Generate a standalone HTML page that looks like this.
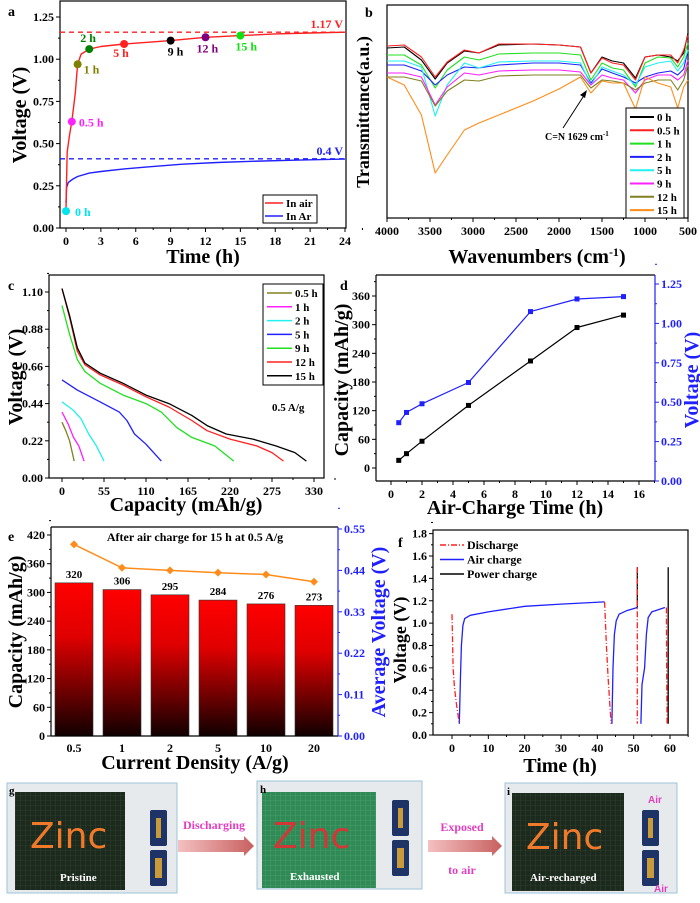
<!DOCTYPE html>
<html><head><meta charset="utf-8">
<style>
html,body{margin:0;padding:0;background:#fff;}
svg{display:block;font-family:"Liberation Serif",serif;font-weight:bold;}
</style></head>
<body>
<svg id="fig" width="700" height="903" viewBox="0 0 700 903" xmlns="http://www.w3.org/2000/svg">
<defs>
<linearGradient id="barGrad" x1="0" y1="0" x2="0" y2="1">
<stop offset="0" stop-color="#ff0000"/><stop offset="0.35" stop-color="#e00000"/><stop offset="1" stop-color="#100000"/>
</linearGradient>
<linearGradient id="arrowGrad" x1="0" y1="0" x2="1" y2="0">
<stop offset="0" stop-color="#f4c0c0"/><stop offset="1" stop-color="#c86060"/>
</linearGradient>
<pattern id="gridDark" width="5" height="5" patternUnits="userSpaceOnUse"><rect width="5" height="5" fill="#1c2a1e"/><path d="M0 0H5M0 0V5" stroke="#3a4a3c" stroke-width="0.6"/></pattern>
<pattern id="gridGreen" width="5" height="5" patternUnits="userSpaceOnUse"><rect width="5" height="5" fill="#2f8a55"/><path d="M0 0H5M0 0V5" stroke="#5aa878" stroke-width="0.6"/></pattern>
</defs>

<g>
 <g>
  <rect x="7" y="783" width="170" height="110" fill="#e6eaec" stroke="#9cc4dc" stroke-width="1"/>
  <rect x="15" y="792" width="110" height="98" fill="url(#gridDark)"/>
  <text x="30" y="848" font-family="'DejaVu Sans',sans-serif" font-weight="normal" font-size="36" fill="#f07a2a">Zinc</text>
  <text x="60" y="881" font-size="11" fill="#fff">Pristine</text>
  <rect x="150" y="810" width="17" height="36" rx="2" fill="#1f3466"/>
  <rect x="150" y="850" width="17" height="36" rx="2" fill="#1f3466"/>
  <rect x="156" y="818" width="5" height="20" fill="#c89a3a"/>
  <rect x="155" y="858" width="7" height="20" fill="#c89a3a"/>
  <text x="9" y="794" font-size="11" fill="#000">g</text>
 </g>
 <text x="214" y="829" font-size="12" fill="#e040c0" text-anchor="middle">Discharging</text>
 <polygon points="178,840 244,840 244,836 254,846 244,856 244,852 178,852" fill="url(#arrowGrad)"/>
 <g>
  <rect x="257" y="781" width="165" height="108" fill="#e6eaec" stroke="#9cc4dc" stroke-width="1"/>
  <rect x="262" y="792" width="114" height="96" fill="url(#gridGreen)"/>
  <text x="273" y="848" font-family="'DejaVu Sans',sans-serif" font-weight="normal" font-size="36" fill="#d03838">Zinc</text>
  <text x="290" y="880" font-size="11" fill="#fff">Exhausted</text>
  <rect x="392" y="800" width="17" height="36" rx="2" fill="#1f3466"/>
  <rect x="392" y="840" width="17" height="36" rx="2" fill="#1f3466"/>
  <rect x="398" y="808" width="5" height="20" fill="#c89a3a"/>
  <rect x="397" y="848" width="7" height="20" fill="#c89a3a"/>
  <text x="260" y="793" font-size="11" fill="#000">h</text>
 </g>
 <text x="462" y="831" font-size="12" fill="#e040c0" text-anchor="middle">Exposed</text>
 <text x="462" y="874" font-size="12" fill="#e040c0" text-anchor="middle">to air</text>
 <polygon points="428,840 492,840 492,836 502,846 492,856 492,852 428,852" fill="url(#arrowGrad)"/>
 <g>
  <rect x="505" y="783" width="172" height="110" fill="#e6eaec" stroke="#9cc4dc" stroke-width="1"/>
  <rect x="512" y="793" width="112" height="98" fill="url(#gridDark)"/>
  <text x="526" y="849" font-family="'DejaVu Sans',sans-serif" font-weight="normal" font-size="36" fill="#f07a2a">Zinc</text>
  <text x="530" y="881" font-size="11" fill="#fff">Air-recharged</text>
  <rect x="642" y="810" width="17" height="36" rx="2" fill="#1f3466"/>
  <rect x="642" y="850" width="17" height="36" rx="2" fill="#1f3466"/>
  <rect x="648" y="818" width="5" height="20" fill="#c89a3a"/>
  <rect x="647" y="858" width="7" height="20" fill="#c89a3a"/>
  <text x="648" y="803" font-family="'Liberation Sans',sans-serif" font-size="10" fill="#e040c0">Air</text>
  <text x="654" y="892" font-family="'Liberation Sans',sans-serif" font-size="10" fill="#e040c0">Air</text>
  <text x="507" y="795" font-size="11" fill="#000">i</text>
 </g>
</g>
</svg>

<script>
const NS='http://www.w3.org/2000/svg';
const svg=document.getElementById('fig');
function mk(parent,tag,attrs,name){
  const e=document.createElementNS(NS,tag);
  for(const k in attrs) e.setAttribute(k,attrs[k]);
  
  
  parent.appendChild(e);
  return e;
}
function txt(parent,x,y,s,size,fill,anchor,name,rot){
  const a={x:x,y:y,'font-size':size,fill:fill||'#000','text-anchor':anchor||'start'};
  if(rot) a.transform='rotate(-90 '+x+' '+y+')';
  const t=mk(parent,'text',a,name);
  t.textContent=s;
  return t;
}
function lin(a0,a1,p0,p1){return v=>p0+(v-a0)*(p1-p0)/(a1-a0);}
function ticks(g,orient,pos,scale,vals,labels,color,size,name,minor){
  color=color||'#000';
  vals.forEach((v,i)=>{
    const p=scale(v);
    if(orient==='bottom'){
      mk(g,'line',{x1:p,y1:pos,x2:p,y2:pos+4,stroke:color,'stroke-width':1},name+'-tick');
      if(labels) txt(g,p,pos+17,labels[i],size,color,'middle',name+'-label');
    }else if(orient==='left'){
      mk(g,'line',{x1:pos-4,y1:p,x2:pos,y2:p,stroke:color,'stroke-width':1},name+'-tick');
      if(labels) txt(g,pos-6,p+4,labels[i],size,color,'end',name+'-label');
    }else{
      mk(g,'line',{x1:pos,y1:p,x2:pos+4,y2:p,stroke:color,'stroke-width':1},name+'-tick');
      if(labels) txt(g,pos+6,p+4,labels[i],size,color,'start',name+'-label');
    }
  });
  if(minor){
    const step=(vals[1]-vals[0])/2;
    vals.forEach(v=>{
      const p=scale(v+step);
      if(orient==='bottom') mk(g,'line',{x1:p,y1:pos,x2:p,y2:pos+2,stroke:color},name+'-minor-tick');
      else if(orient==='left') mk(g,'line',{x1:pos-2,y1:p,x2:pos,y2:p,stroke:color},name+'-minor-tick');
      else mk(g,'line',{x1:pos,y1:p,x2:pos+2,y2:p,stroke:color},name+'-minor-tick');
    });
  }
}
function poly(g,xs,ys,sx,sy,color,w,name,dash){
  const pts=xs.map((x,i)=>sx(x).toFixed(1)+','+sy(ys[i]).toFixed(1)).join(' ');
  const a={points:pts,fill:'none',stroke:color,'stroke-width':w||1.3,'stroke-linejoin':'round'};
  if(dash) a['stroke-dasharray']=dash;
  return mk(g,'polyline',a,name);
}
function box(g,x0,y0,x1,y1,name){mk(g,'rect',{x:x0,y:y0,width:x1-x0,height:y1-y0,fill:'none',stroke:'#000','stroke-width':1.2},name);}

/* ================= Panel a data ================= */
const aAirT=[0,0.05,0.1,0.3,0.5,0.8,1,1.3,2,3,5,7,9,12,15,18,21,24];
const aAirV=[0.1,0.3,0.45,0.55,0.63,0.8,0.97,1.03,1.06,1.075,1.09,1.1,1.11,1.13,1.14,1.15,1.155,1.16];
const aArT=[0,0.05,0.2,0.6,1,2,3,5,7,10,13,16,20,24];
const aArV=[0.15,0.24,0.27,0.29,0.305,0.325,0.335,0.35,0.362,0.378,0.388,0.395,0.402,0.408];
const aPtT=[0,0.5,1,2,5,9,12,15];
const aPtV=[0.1,0.63,0.97,1.06,1.09,1.11,1.13,1.14];
const aPtLabels=['0 h','0.5 h','1 h','2 h','5 h','9 h','12 h','15 h'];
const aXTicks=[0,3,6,9,12,15,18,21,24];
const aYTicks=[0,0.25,0.5,0.75,1.0,1.25];
const aYLabels=['0.00','0.25','0.50','0.75','1.00','1.25'];
const aAirPlateau=[1.16];
const aArPlateau=[0.41];

/* ================= Panel b data ================= */
const bWn=[4000,3800,3600,3440,3300,3100,2930,2700,2300,2000,1750,1629,1500,1380,1250,1110,1000,850,700,620,550,500];
const bLabels=['0 h','0.5 h','1 h','2 h','5 h','9 h','12 h','15 h'];
const b0h=[43,42,55,74,58,46,48,40,39,40,42,68,52,56,58,73,52,50,52,56,48,28];
const b05h=[41,40,52,72,57,45,48,39,39,40,42,68,53,58,60,75,52,50,50,58,45,30];
const b1h=[50,50,60,83,65,52,55,49,48,48,50,75,58,63,65,82,58,52,53,62,52,38];
const b2h=[60,60,66,80,70,62,63,60,58,58,60,78,64,68,72,78,72,68,66,70,64,45];
const b5h=[56,56,62,111,80,58,63,57,56,56,58,80,62,66,70,80,62,58,56,66,58,45];
const b9h=[68,68,72,100,82,68,70,66,65,65,67,80,70,73,75,88,75,70,70,75,70,55];
const b12h=[72,72,76,101,86,75,76,71,70,70,70,83,75,76,78,85,78,75,75,85,75,60];
const b15h=[72,80,110,168,150,125,118,110,96,84,72,88,76,78,78,104,72,78,82,103,82,75];
const bXTicks=[4000,3500,3000,2500,2000,1500,1000,500];

/* ================= Panel c data ================= */
const cLabels=['0.5 h','1 h','2 h','5 h','9 h','12 h','15 h'];
const c05Q=[0,5,10,16]; const c05V=[0.33,0.28,0.22,0.1];
const c1Q=[0,8,15,22,29]; const c1V=[0.39,0.32,0.24,0.19,0.1];
const c2Q=[0,15,25,35,45,55]; const c2V=[0.45,0.40,0.35,0.26,0.19,0.1];
const c5Q=[0,20,50,75,85,95,110,130]; const c5V=[0.58,0.52,0.45,0.39,0.34,0.26,0.2,0.1];
const c9Q=[0,10,20,30,50,80,110,130,150,170,200,225]; const c9V=[1.02,0.85,0.7,0.63,0.56,0.49,0.44,0.39,0.3,0.24,0.19,0.1];
const c12Q=[0,10,20,30,50,80,110,140,170,190,220,255,275,290]; const c12V=[1.12,0.95,0.75,0.67,0.61,0.55,0.48,0.42,0.34,0.28,0.23,0.19,0.15,0.1];
const c15Q=[0,10,20,30,50,80,110,140,170,190,215,250,280,305,320]; const c15V=[1.12,0.96,0.77,0.68,0.62,0.56,0.49,0.44,0.37,0.31,0.26,0.23,0.19,0.15,0.1];
const cXTicks=[0,55,110,165,220,275,330];
const cYTicks=[0,0.22,0.44,0.66,0.88,1.10];
const cYLabels=['0.00','0.22','0.44','0.66','0.88','1.10'];

/* ================= Panel d data ================= */
const dTime=[0.5,1,2,5,9,12,15];
const dCapacity=[16,30,56,131,224,294,320];
const dVoltage=[0.37,0.435,0.49,0.625,1.075,1.155,1.17];
const dXTicks=[0,2,4,6,8,10,12,14,16];
const dYTicks=[0,60,120,180,240,300,360];
const dRTicks=[0,0.25,0.5,0.75,1.0,1.25];
const dRLabels=['0.00','0.25','0.50','0.75','1.00','1.25'];

/* ================= Panel e data ================= */
const eCats=['0.5','1','2','5','10','20'];
const eCapacity=[320,306,295,284,276,273];
const eAvgVoltage=[0.509,0.447,0.44,0.434,0.429,0.41];
const eYTicks=[0,60,120,180,240,300,360,420];
const eRTicks=[0,0.11,0.22,0.33,0.44,0.55];
const eRLabels=['0.00','0.11','0.22','0.33','0.44','0.55'];

/* ================= Panel f data ================= */
const fDis1T=[0,0.3,0.7,1.2,1.7,2]; const fDis1V=[1.08,0.6,0.42,0.28,0.17,0.1];
const fDis2T=[42,42.5,43,43.5,43.8]; const fDis2V=[1.19,0.8,0.5,0.25,0.1];
const fDis3T=[51,51,51]; const fDis3V=[1.5,1.14,0.1];
const fDis4T=[59,59.1,59.2]; const fDis4V=[1.14,0.5,0.1];
const fAir1T=[2,2.3,2.6,3,3.5,5,10,20,30,42]; const fAir1V=[0.1,0.5,0.8,0.98,1.04,1.07,1.1,1.15,1.17,1.19];
const fAir2T=[44,44.3,44.7,45.2,46,48,51]; const fAir2V=[0.1,0.6,0.9,1.02,1.08,1.11,1.14];
const fAir3T=[52,52.3,53,53.5,54,55,58.6]; const fAir3V=[0.1,0.45,0.6,0.9,1.05,1.1,1.14];
const fPow1T=[51,51]; const fPow1V=[1.14,1.5];
const fPow2T=[59.5,59.5]; const fPow2V=[0.1,1.5];
const fXTicks=[0,10,20,30,40,50,60];
const fYTicks=[0,0.2,0.4,0.6,0.8,1.0,1.2,1.4,1.6,1.8];
const fYLabels=['0.0','0.2','0.4','0.6','0.8','1.0','1.2','1.4','1.6','1.8'];

/* ================= Draw panel a ================= */
(function(){
  const g=mk(svg,'g',{},'panel-a');
  const sx=lin(0,24,66,345), sy=lin(0,1.25,228,17);
  box(g,60,1,346,228,'panel-a-frame');
  ticks(g,'bottom',228,sx,aXTicks,aXTicks.map(String),'#000',12,'a-x',true);
  ticks(g,'left',60,sy,aYTicks,aYLabels,'#000',12,'a-y',true);
  txt(g,203,263,'Time (h)',20,'#000','middle','a-x-title');
  txt(g,26,115,'Voltage (V)',20,'#000','middle','a-y-title',true);
  txt(g,8,16,'a',14,'#000','start','panel-a-label');
  mk(g,'line',{x1:60,y1:sy(aAirPlateau[0]),x2:346,y2:sy(aAirPlateau[0]),stroke:'#ff2020','stroke-width':1.3,'stroke-dasharray':'5,4'},'a-air-plateau-line');
  mk(g,'line',{x1:60,y1:sy(aArPlateau[0]),x2:346,y2:sy(aArPlateau[0]),stroke:'#2020ff','stroke-width':1.3,'stroke-dasharray':'5,4'},'a-ar-plateau-line');
  txt(g,343,sy(aAirPlateau[0])-4,'1.17 V',12,'#ff2020','end','a-air-plateau-label');
  txt(g,343,sy(aArPlateau[0])-4,'0.4 V',12,'#2020ff','end','a-ar-plateau-label');
  poly(g,aArT,aArV,sx,sy,'#2020ff',1.4,'a-in-ar-line');
  poly(g,aAirT,aAirV,sx,sy,'#ff2020',1.4,'a-in-air-line');
  const colors=['#00e5ee','#ff20ff','#808000','#008000','#ff2020','#000000','#800080','#10e010'];
  const offs=[[9,5],[7,5],[6,9],[-9,-7],[-11,13],[-3,15],[-9,15],[-5,15]];
  aPtT.forEach((t,i)=>{
    mk(g,'circle',{cx:sx(t),cy:sy(aPtV[i]),r:4,fill:colors[i]},'a-point-'+i);
    txt(g,sx(t)+offs[i][0],sy(aPtV[i])+offs[i][1],aPtLabels[i],12,colors[i],'start','a-point-label-'+i);
  });
  mk(g,'rect',{x:263,y:195,width:54,height:28,fill:'#fff',stroke:'#000','stroke-width':1},'a-legend-box');
  mk(g,'line',{x1:265,y1:203,x2:283,y2:203,stroke:'#ff2020','stroke-width':1.5},'a-legend-air-line');
  txt(g,286,207,'In air',11,'#000','start','a-legend-air-label');
  mk(g,'line',{x1:265,y1:216,x2:283,y2:216,stroke:'#2020ff','stroke-width':1.5},'a-legend-ar-line');
  txt(g,286,220,'In Ar',11,'#000','start','a-legend-ar-label');
})();

/* ================= Draw panel b ================= */
(function(){
  const g=mk(svg,'g',{},'panel-b');
  const sx=lin(4000,500,387,688), sy=lin(0,213,5,218);
  box(g,387,5,688,218,'panel-b-frame');
  ticks(g,'bottom',218,sx,bXTicks,bXTicks.map(String),'#000',12,'b-x',true);
  txt(g,537,263,'Wavenumbers (cm',20,'#000','middle','b-x-title').innerHTML='Wavenumbers (cm<tspan dy="-7" font-size="12">-1</tspan><tspan dy="7">)</tspan>';
  txt(g,369,112,'Transmittance(a.u.)',18,'#000','middle','b-y-title',true);
  txt(g,365,17,'b',14,'#000','start','panel-b-label');
  const series=[b0h,b05h,b1h,b2h,b5h,b9h,b12h,b15h];
  const colors=['#000000','#ff2020','#20e020','#2020ff','#20f0f0','#ff20ff','#808020','#ff8c1a'];
  series.forEach((s,i)=>{
    poly(g,bWn,s,sx,sy,colors[i],1.1,'b-spectrum-'+i);
  });
  mk(g,'line',{x1:563,y1:128,x2:585,y2:94,stroke:'#000','stroke-width':1},'b-annotation-arrow');
  mk(g,'polygon',{points:'587,90 580,95 585,98'},'b-annotation-arrowhead');
  txt(g,545,140,'C=N 1629 cm',10,'#000','start','b-annotation-text').innerHTML='C=N 1629 cm<tspan dy="-4" font-size="7">-1</tspan>';
  mk(g,'rect',{x:626,y:108,width:58,height:110,fill:'#fff',stroke:'#000','stroke-width':1},'b-legend-box');
  bLabels.forEach((l,i)=>{
    const y=117+i*13.3;
    mk(g,'line',{x1:630,y1:y,x2:654,y2:y,stroke:colors[i],'stroke-width':2},'b-legend-line-'+i);
    txt(g,657,y+4,l,11,'#000','start','b-legend-label-'+i);
  });
})();

/* ================= Draw panel c ================= */
(function(){
  const g=mk(svg,'g',{},'panel-c');
  const sx=lin(0,330,62,314), sy=lin(0,1.1,478,292);
  box(g,49,275,324,478,'panel-c-frame');
  ticks(g,'bottom',478,sx,cXTicks,cXTicks.map(String),'#000',12,'c-x',true);
  ticks(g,'left',49,sy,cYTicks,cYLabels,'#000',12,'c-y',true);
  txt(g,186,511,'Capacity (mAh/g)',20,'#000','middle','c-x-title');
  txt(g,22,377,'Voltage (V)',20,'#000','middle','c-y-title',true);
  txt(g,8,290,'c',14,'#000','start','panel-c-label');
  const Q=[c05Q,c1Q,c2Q,c5Q,c9Q,c12Q,c15Q], V=[c05V,c1V,c2V,c5V,c9V,c12V,c15V];
  const colors=['#808020','#ff20ff','#20f0f0','#2020ff','#20e020','#ff2020','#000000'];
  Q.forEach((q,i)=>{ poly(g,q,V[i],sx,sy,colors[i],1.3,'c-discharge-'+i); });
  mk(g,'rect',{x:263,y:284,width:60,height:101,fill:'#fff',stroke:'#000','stroke-width':1},'c-legend-box');
  cLabels.forEach((l,i)=>{
    const y=293+i*13.8;
    mk(g,'line',{x1:267,y1:y,x2:292,y2:y,stroke:colors[i],'stroke-width':1.5},'c-legend-line-'+i);
    txt(g,295,y+4,l,11,'#000','start','c-legend-label-'+i);
  });
  txt(g,272,411,'0.5 A/g',11,'#000','start','c-rate-label');
})();

/* ================= Draw panel d ================= */
(function(){
  const g=mk(svg,'g',{},'panel-d');
  const sx=lin(0,16,391,639), sy=lin(0,360,468,296), sr=lin(0,1.25,481,284);
  mk(g,'line',{x1:376,y1:275,x2:655,y2:275,stroke:'#000','stroke-width':1.2},'d-frame-top');
  mk(g,'line',{x1:376,y1:481,x2:655,y2:481,stroke:'#000','stroke-width':1.2},'d-frame-bottom');
  mk(g,'line',{x1:376,y1:275,x2:376,y2:481,stroke:'#000','stroke-width':1.2},'d-frame-left');
  mk(g,'line',{x1:655,y1:275,x2:655,y2:481,stroke:'#2020ff','stroke-width':1.2},'d-frame-right');
  ticks(g,'bottom',481,sx,dXTicks,dXTicks.map(String),'#000',12,'d-x',true);
  ticks(g,'left',376,sy,dYTicks,dYTicks.map(String),'#000',12,'d-y',true);
  ticks(g,'right',655,sr,dRTicks,dRLabels,'#2020ff',12,'d-right-y',true);
  txt(g,515,514,'Air-Charge Time (h)',20,'#000','middle','d-x-title');
  txt(g,348,380,'Capacity (mAh/g)',20,'#000','middle','d-left-y-title',true);
  txt(g,698,380,'Voltage (V)',20,'#2020ff','middle','d-right-y-title',true);
  txt(g,340,290,'d',14,'#000','start','panel-d-label');
  poly(g,dTime,dCapacity,sx,sy,'#000',1.2,'d-capacity-line');
  poly(g,dTime,dVoltage,sx,sr,'#2020ff',1.2,'d-voltage-line');
  dTime.forEach((t,i)=>{
    mk(g,'rect',{x:sx(t)-2.5,y:sy(dCapacity[i])-2.5,width:5,height:5,fill:'#000'},'d-capacity-marker');
    mk(g,'rect',{x:sx(t)-2.5,y:sr(dVoltage[i])-2.5,width:5,height:5,fill:'#2020ff'},'d-voltage-marker');
  });
})();

/* ================= Draw panel e ================= */
(function(){
  const g=mk(svg,'g',{},'panel-e');
  const sy=lin(0,420,736,535), sr=lin(0,0.55,736,529);
  const bx=i=>74+i*48;
  eCats.forEach((c,i)=>{
    const y=sy(eCapacity[i]);
    mk(g,'rect',{x:bx(i)-19,y:y,width:38,height:736-y,fill:'url(#barGrad)',stroke:'#333','stroke-width':0.6},'e-bar-'+i);
    txt(g,bx(i),y-5,String(eCapacity[i]),11,'#000','middle','e-bar-value-'+i);
  });
  const pts=eCats.map((c,i)=>bx(i)+','+sr(eAvgVoltage[i]).toFixed(1)).join(' ');
  mk(g,'polyline',{points:pts,fill:'none',stroke:'#ff8c1a','stroke-width':1.5},'e-voltage-line');
  eCats.forEach((c,i)=>{
    const cx=bx(i), cy=sr(eAvgVoltage[i]);
    mk(g,'polygon',{points:(cx)+','+(cy-4)+' '+(cx+4)+','+cy+' '+cx+','+(cy+4)+' '+(cx-4)+','+cy,fill:'#ff8c1a'},'e-voltage-marker-'+i);
  });
  mk(g,'line',{x1:51,y1:527,x2:338,y2:527,stroke:'#000','stroke-width':1.2},'e-frame-top');
  mk(g,'line',{x1:51,y1:736,x2:338,y2:736,stroke:'#000','stroke-width':1.2},'e-frame-bottom');
  mk(g,'line',{x1:51,y1:527,x2:51,y2:736,stroke:'#000','stroke-width':1.2},'e-frame-left');
  mk(g,'line',{x1:338,y1:527,x2:338,y2:736,stroke:'#2020ff','stroke-width':1.2},'e-frame-right');
  ticks(g,'left',51,sy,eYTicks,eYTicks.map(String),'#000',12,'e-y',true);
  ticks(g,'right',338,sr,eRTicks,eRLabels,'#2020ff',12,'e-right-y',true);
  eCats.forEach((c,i)=>{ txt(g,bx(i),752,c,12,'#000','middle','e-x-label-'+i); });
  txt(g,195,769,'Current Density (A/g)',20,'#000','middle','e-x-title');
  txt(g,22,632,'Capacity (mAh/g)',20,'#000','middle','e-left-y-title',true);
  txt(g,385,632,'Average Voltage (V)',20,'#2020ff','middle','e-right-y-title',true);
  txt(g,195,541,'After air charge for 15 h at 0.5 A/g',12,'#000','middle','e-annotation');
  txt(g,8,541,'e',14,'#000','start','panel-e-label');
})();

/* ================= Draw panel f ================= */
(function(){
  const g=mk(svg,'g',{},'panel-f');
  const sx=lin(0,60,452,670), sy=lin(0,1.6,735,556);
  box(g,433,530,688,735,'panel-f-frame');
  ticks(g,'bottom',735,sx,fXTicks,fXTicks.map(String),'#000',12,'f-x',true);
  ticks(g,'left',433,sy,fYTicks,fYLabels,'#000',12,'f-y',true);
  txt(g,560,772,'Time (h)',20,'#000','middle','f-x-title');
  txt(g,406,640,'Voltage (V)',18,'#000','middle','f-y-title',true);
  txt(g,398,547,'f',14,'#000','start','panel-f-label');
  [[fAir1T,fAir1V],[fAir2T,fAir2V],[fAir3T,fAir3V]].forEach((s,i)=>poly(g,s[0],s[1],sx,sy,'#2020ff',1.3,'f-air-charge-'+i));
  [[fPow1T,fPow1V],[fPow2T,fPow2V]].forEach((s,i)=>poly(g,s[0],s[1],sx,sy,'#000',1.3,'f-power-charge-'+i));
  [[fDis1T,fDis1V],[fDis2T,fDis2V],[fDis3T,fDis3V],[fDis4T,fDis4V]].forEach((s,i)=>poly(g,s[0],s[1],sx,sy,'#ff2020',1.3,'f-discharge-'+i,'6,2,1,2'));
  const leg=[['Discharge','#ff2020','6,2,1,2'],['Air charge','#2020ff',''],['Power charge','#000','']];
  leg.forEach((l,i)=>{
    const y=545+i*14.5;
    const a={x1:440,y1:y,x2:464,y2:y,stroke:l[1],'stroke-width':1.4};
    if(l[2]) a['stroke-dasharray']=l[2];
    mk(g,'line',a,'f-legend-line-'+i);
    txt(g,467,y+4,l[0],12,'#000','start','f-legend-label-'+i);
  });
})();
</script>
</body></html>
